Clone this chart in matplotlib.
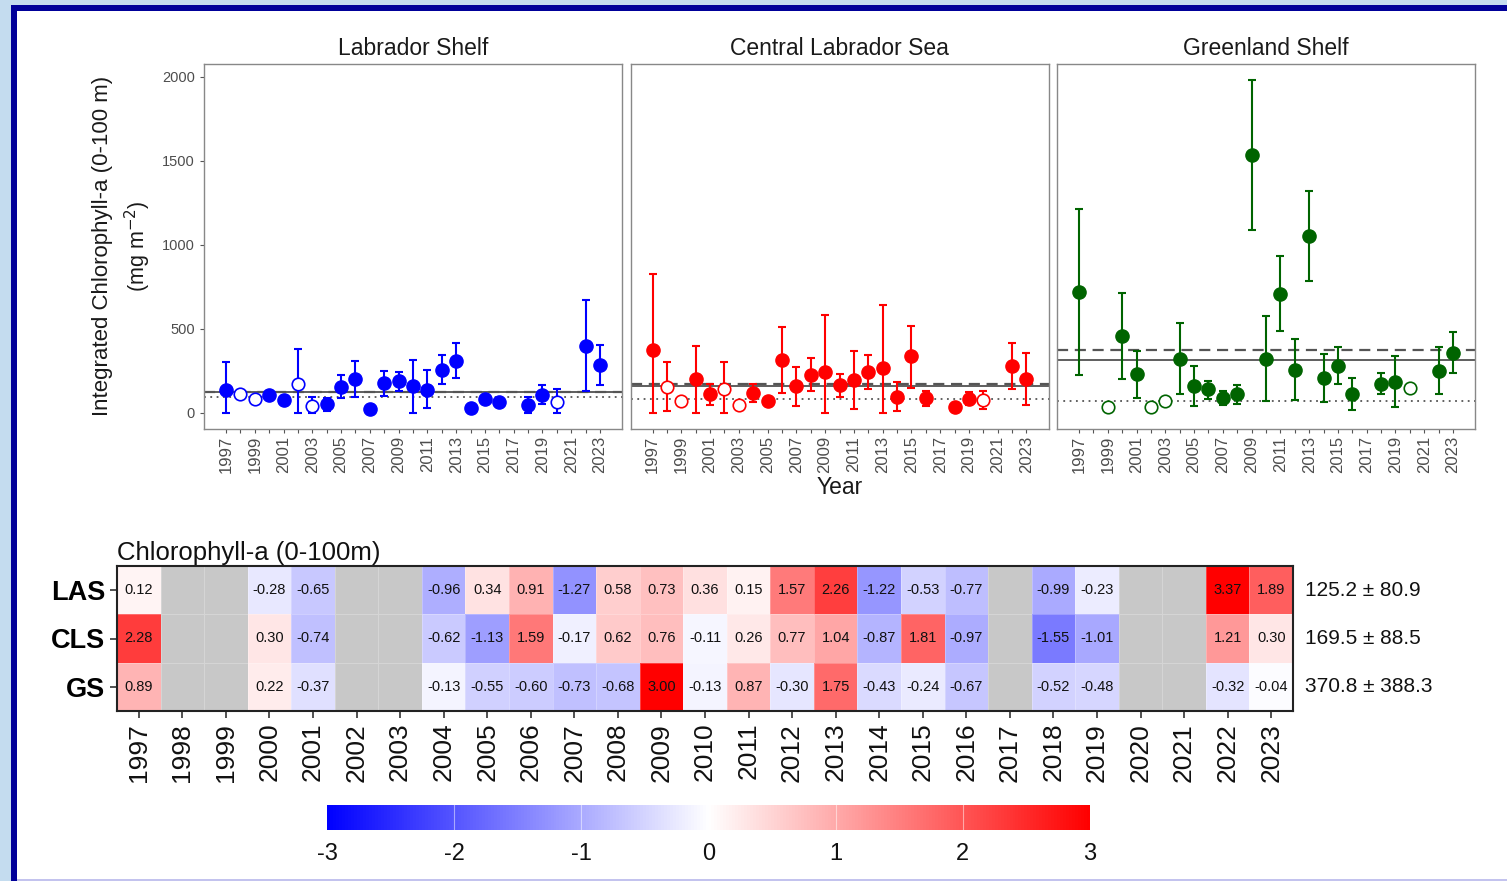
import numpy as np
import matplotlib
matplotlib.use("Agg")
import matplotlib.pyplot as plt
from matplotlib.colors import LinearSegmentedColormap, Normalize
from matplotlib.patches import Rectangle
from matplotlib.cm import ScalarMappable

nan = np.nan
plt.rcParams['font.family'] = ['Liberation Sans', 'DejaVu Sans']

years = list(range(1997, 2024))
open_years = [1998, 1999, 2002, 2003, 2020]

# ---- top panels: integrated chl-a per region (value, lower bound, upper bound)
las_val = [137, 111, 83, 103, 73, 173, 42, 50, 155, 200, 24, 175, 187, 157, 137, 254, 310, 28, 83, 64, nan, 46, 107, 64, nan, 399, 282]
las_lo = [0, nan, nan, nan, 50, 0, 0, 13, 87, 91, nan, 97, 131, 0, 28, 171, 206, nan, nan, nan, nan, 0, 52, 0, nan, 127, 163]
las_hi = [305, nan, nan, nan, 100, 379, 93, 88, 222, 311, nan, 250, 240, 313, 252, 341, 413, nan, nan, nan, nan, 91, 167, 143, nan, 669, 401]

cls_val = [375, 153, 71, 200, 109, 143, 48, 117, 71, 313, 157, 226, 240, 163, 196, 242, 264, 95, 335, 85, nan, 36, 83, 73, nan, 280, 200]
cls_lo = [0, 12, nan, 0, 44, 0, nan, 64, nan, 117, 42, 127, 0, 93, 22, 141, 0, 12, 147, 42, nan, nan, 44, 22, nan, 143, 44]
cls_hi = [826, 300, nan, 395, 173, 305, nan, 171, nan, 512, 274, 327, 581, 230, 369, 341, 641, 180, 518, 131, nan, nan, 121, 127, nan, 417, 353]

gs_val = [718, nan, 36, 456, 228, 36, 70, 321, 157, 139, 87, 109, 1534, 321, 708, 256, 1052, 206, 280, 111, nan, 173, 185, 147, nan, 248, 357]
gs_lo = [226, nan, nan, 200, 87, nan, 55, 111, 42, 83, 48, 52, 1089, 71, 484, 77, 784, 64, 171, 18, nan, 111, 32, nan, nan, 111, 234]
gs_hi = [1214, nan, nan, 712, 369, nan, 85, 536, 278, 190, 127, 167, 1982, 579, 935, 439, 1323, 351, 391, 206, nan, 236, 337, nan, nan, 391, 482]

region_titles = ["Labrador Shelf", "Central Labrador Sea", "Greenland Shelf"]
region_colors = ["#0000FF", "#FF0000", "#006400"]
line_mean = [125.2, 169.5, 370.8]   # dashed
line_solid = [122, 157, 313]
line_dotted = [93, 83, 71]

# ---- heatmap anomalies
row_labels = ["LAS", "CLS", "GS"]
anom_las = [0.12, nan, nan, -0.28, -0.65, nan, nan, -0.96, 0.34, 0.91, -1.27, 0.58, 0.73, 0.36, 0.15, 1.57, 2.26, -1.22, -0.53, -0.77, nan, -0.99, -0.23, nan, nan, 3.37, 1.89]
anom_cls = [2.28, nan, nan, 0.30, -0.74, nan, nan, -0.62, -1.13, 1.59, -0.17, 0.62, 0.76, -0.11, 0.26, 0.77, 1.04, -0.87, 1.81, -0.97, nan, -1.55, -1.01, nan, nan, 1.21, 0.30]
anom_gs = [0.89, nan, nan, 0.22, -0.37, nan, nan, -0.13, -0.55, -0.60, -0.73, -0.68, 3.00, -0.13, 0.87, -0.30, 1.75, -0.43, -0.24, -0.67, nan, -0.52, -0.48, nan, nan, -0.32, -0.04]
clim_text = ["125.2 \u00b1 80.9", "169.5 \u00b1 88.5", "370.8 \u00b1 388.3"]
cbar_ticks = [-3, -2, -1, 0, 1, 2, 3]

W, H = 1507, 881
fig = plt.figure(figsize=(W / 100, H / 100), dpi=100)
fig.patch.set_facecolor("#c4dcef")


def fx(px):
    return px / W


def fy(py):
    return 1 - py / H


# slide-like frame: dark blue border on top/left, white page
fig.add_artist(Rectangle((fx(11), fy(881)), 1 - fx(11), fy(5) - fy(881),
                         transform=fig.transFigure, facecolor="#000099", edgecolor="none", zorder=0))
fig.add_artist(Rectangle((fx(17), fy(879)), 1 - fx(17), fy(11) - fy(879),
                         transform=fig.transFigure, facecolor="white", edgecolor="none", zorder=0))
fig.add_artist(Rectangle((fx(17), fy(881)), 1 - fx(17), fy(879) - fy(881),
                         transform=fig.transFigure, facecolor="#c3c3ee", edgecolor="none", zorder=0))

series = [(las_val, las_lo, las_hi), (cls_val, cls_lo, cls_hi), (gs_val, gs_lo, gs_hi)]
panel_left = [204, 630.5, 1057]
yrs = np.array(years)
for k, (vals, lo, hi) in enumerate(series):
    ax = fig.add_axes([fx(panel_left[k]), fy(429), fx(418), fy(63.5) - fy(429)])
    vals, lo, hi = np.array(vals, float), np.array(lo, float), np.array(hi, float)
    col = region_colors[k]
    ax.axhline(line_dotted[k], color="#555555", lw=1.3, ls=(0, (1, 2.5)), zorder=1)
    ax.axhline(line_solid[k], color="#333333", lw=1.1, zorder=1)
    ax.axhline(line_mean[k], color="#555555", lw=1.6, ls=(0, (5, 3)), zorder=1)
    m = ~np.isnan(lo)
    ax.errorbar(yrs[m], vals[m], yerr=[vals[m] - lo[m], hi[m] - vals[m]], fmt="none",
                ecolor=col, elinewidth=1.5, capsize=3, capthick=1.5, zorder=2)
    is_open = np.isin(yrs, open_years)
    f = ~is_open & ~np.isnan(vals)
    ax.plot(yrs[f], vals[f], "o", color=col, ms=9.5, zorder=3)
    o = is_open & ~np.isnan(vals)
    ax.plot(yrs[o], vals[o], "o", mfc="white", mec=col, mew=1.2, ms=9, zorder=3)
    ax.set_xlim(1995.47, 2024.53)
    ax.set_ylim(-97, 2080)
    ax.set_xticks(years)
    ax.set_xticklabels([str(y) if (y - 1997) % 2 == 0 else "" for y in years],
                       rotation=90, fontsize=12, color="#4d4d4d")
    ax.set_yticks([0, 500, 1000, 1500, 2000])
    if k == 0:
        ax.set_yticklabels(["0", "500", "1000", "1500", "2000"], fontsize=10.5, color="#4d4d4d")
        ax.tick_params(axis="y", length=3, color="#555555")
    else:
        ax.tick_params(axis="y", left=False, labelleft=False)
    ax.tick_params(axis="x", length=3, color="#555555", pad=2)
    for s in ax.spines.values():
        s.set_color("#888888")
        s.set_linewidth(1.0)
    ax.set_title(region_titles[k], fontsize=16.5, color="#1a1a1a", pad=6)

fig.text(fx(103), fy(246), "Integrated Chlorophyll-a (0-100 m)", rotation=90,
         ha="center", va="center", fontsize=16, color="#1a1a1a")
fig.text(fx(138), fy(246), "(mg m$^{-2}$)", rotation=90,
         ha="center", va="center", fontsize=15.5, color="#1a1a1a")
fig.text(fx(840), fy(488), "Year", ha="center", va="center", fontsize=16.5, color="#1a1a1a")

# ---- heatmap
cmap = LinearSegmentedColormap.from_list("bwr_gg", ["#0000FF", "#FFFFFF", "#FF0000"])
cmap.set_bad("#c8c8c8")
norm = Normalize(vmin=-3, vmax=3)
anom = np.array([anom_las, anom_cls, anom_gs], float)

hax = fig.add_axes([fx(117), fy(711), fx(1176), fy(566) - fy(711)])
hax.pcolormesh(np.arange(len(years) + 1) - 0.5, np.arange(4) - 0.5,
               np.ma.masked_invalid(np.clip(anom, -3, 3)), cmap=cmap, norm=norm,
               edgecolors=(1, 1, 1, 0.25), linewidth=0.4)
for r in range(3):
    for c in range(len(years)):
        v = anom[r, c]
        if not np.isnan(v):
            hax.text(c, r, f"{v:.2f}", ha="center", va="center", fontsize=10.5, color="#111111")
hax.set_xlim(-0.5, len(years) - 0.5)
hax.set_ylim(2.5, -0.5)
hax.set_xticks(range(len(years)))
hax.set_xticklabels([str(y) for y in years], rotation=90, fontsize=19, color="#111111")
hax.set_yticks(range(3))
hax.set_yticklabels(row_labels, fontsize=19.5, fontweight="bold", color="black")
hax.tick_params(length=5, color="#333333", width=1.2)
for s in hax.spines.values():
    s.set_linewidth(1.5)
    s.set_color("#222222")
hax.set_title("Chlorophyll-a (0-100m)", loc="left", fontsize=18.5, color="#111111", pad=4)
for r in range(3):
    hax.text(1.01, (2.5 - r) / 3, clim_text[r], transform=hax.transAxes,
             ha="left", va="center", fontsize=15, color="#111111")

# ---- colour bar
cax = fig.add_axes([fx(327), fy(830), fx(763), fy(805) - fy(830)])
cb = fig.colorbar(ScalarMappable(norm=norm, cmap=cmap), cax=cax, orientation="horizontal")
cb.outline.set_visible(False)
cb.set_ticks(cbar_ticks)
cb.set_ticklabels([str(t) for t in cbar_ticks])
cax.tick_params(length=0, labelsize=17, labelcolor="#111111", pad=9)
for t in cbar_ticks[1:-1]:
    cax.axvline(t, color="white", lw=0.8, alpha=0.5)

fig.savefig("out.png", dpi=100, facecolor=fig.get_facecolor())
